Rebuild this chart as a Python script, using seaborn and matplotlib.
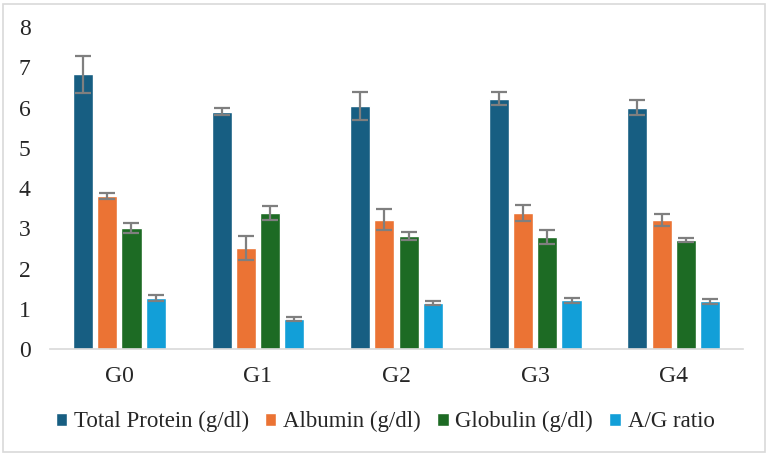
import matplotlib
matplotlib.use("Agg")
import matplotlib.pyplot as plt
import numpy as np
import pandas as pd
import seaborn as sns

# values
groups = ["G0", "G1", "G2", "G3", "G4"]
series = ["Total Protein (g/dl)", "Albumin (g/dl)", "Globulin (g/dl)", "A/G ratio"]
total_protein = [6.82, 5.90, 6.04, 6.22, 6.00]
albumin = [3.81, 2.51, 3.21, 3.38, 3.21]
globulin = [3.01, 3.38, 2.81, 2.79, 2.71]
ag_ratio = [1.27, 0.75, 1.14, 1.21, 1.19]
tp_err = [0.46, 0.08, 0.34, 0.16, 0.19]
alb_err = [0.07, 0.30, 0.26, 0.20, 0.15]
glob_err = [0.13, 0.17, 0.09, 0.18, 0.05]
ag_err = [0.08, 0.05, 0.05, 0.07, 0.06]

colors = ["#175E82", "#EB7334", "#1D6B24", "#129FD8"]

values = [total_protein, albumin, globulin, ag_ratio]
errors = [tp_err, alb_err, glob_err, ag_err]
df = pd.DataFrame({
    "group": groups * len(series),
    "series": [s for s in series for _ in groups],
    "value": [v for vals in values for v in vals],
})

sns.set_style("white")
plt.rcParams["font.family"] = ["Liberation Serif", "DejaVu Serif"]

fig = plt.figure(figsize=(7.7, 4.57), dpi=100)
ax = fig.add_axes([0.065, 0.236, 0.9, 0.705])

sns.barplot(data=df, x="group", y="value", hue="series", order=groups,
            hue_order=series, palette=colors, width=0.7, gap=0.17,
            errorbar=None, saturation=1, ax=ax)

# error bars on each bar
for cont, err in zip(ax.containers, errors):
    xs = [p.get_x() + p.get_width() / 2 for p in cont.patches]
    ys = [p.get_height() for p in cont.patches]
    ax.errorbar(xs, ys, yerr=err, fmt="none", ecolor="#7F7F7F",
                elinewidth=1.6, capsize=6, capthick=1.6)

ax.set_ylim(0, 8)
ax.set_xlim(-0.5, 4.5)
ax.set_yticks(range(0, 9))
ax.set_xlabel("")
ax.set_ylabel("")
ax.tick_params(axis="both", length=0, labelsize=17)
ax.tick_params(axis="x", pad=12)
ax.tick_params(axis="y", pad=14)
for side in ["top", "right", "left"]:
    ax.spines[side].set_visible(False)
ax.spines["bottom"].set_color("#D9D9D9")
ax.spines["bottom"].set_linewidth(1.2)

handles, labels = ax.get_legend_handles_labels()
ax.legend_.remove()
fig.legend(handles, labels, loc="center", bbox_to_anchor=(0.5, 0.077), ncol=4,
           frameon=False, fontsize=16.5, handlelength=0.5, handleheight=0.5,
           handletextpad=0.3, columnspacing=0.7)

fig.patches.append(plt.Rectangle((0.004, 0.011), 0.99, 0.98, transform=fig.transFigure,
                                 fill=False, edgecolor="#D9D9D9", linewidth=1.2))

fig.savefig("out.png", dpi=100)
